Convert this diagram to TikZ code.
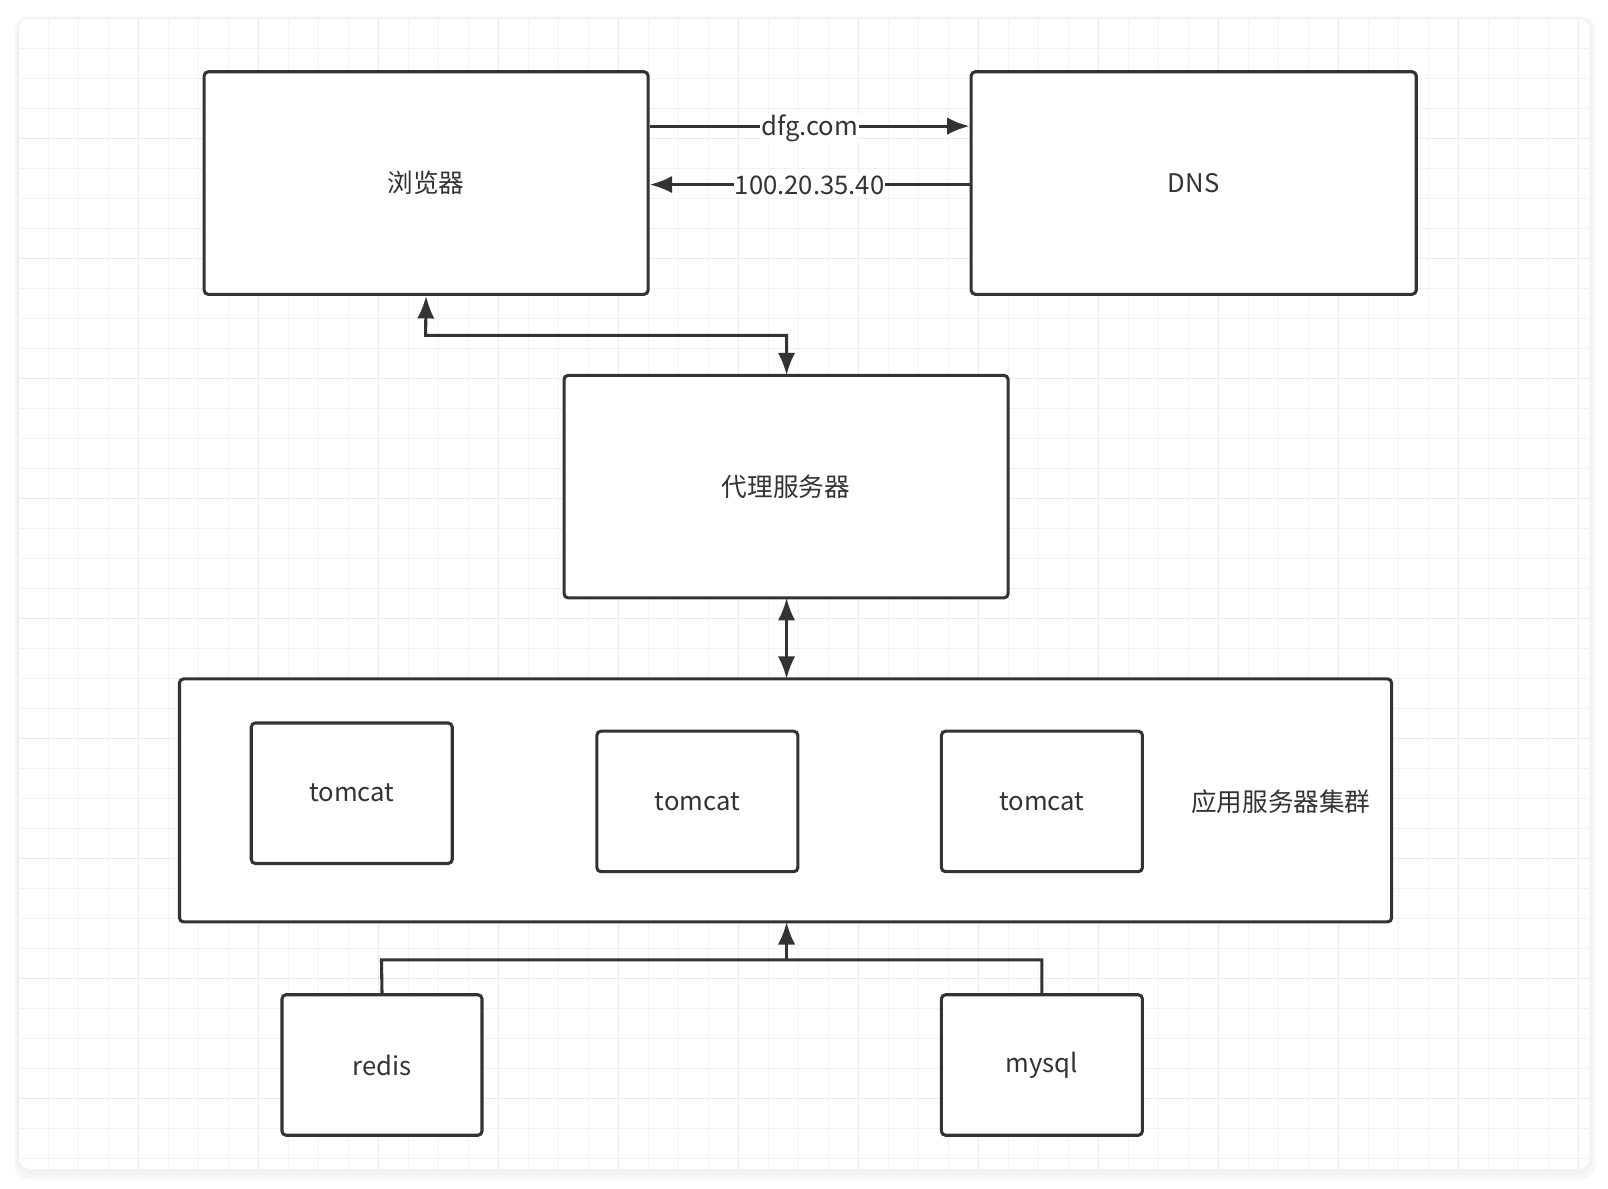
\documentclass[tikz,border=0pt]{standalone}
\usepackage{fontspec}
\setmainfont{Noto Sans CJK SC}
\usetikzlibrary{arrows.meta}
\definecolor{ln}{HTML}{333333}
\begin{document}
\begin{tikzpicture}[x=1pt,y=-1pt,
 box/.style={draw=ln,line width=3pt,rounded corners=4pt,fill=white},
 lbl/.style={font=\fontsize{25}{29}\selectfont,text=ln},
 con/.style={draw=ln,line width=3pt},
 tip/.style={-{Latex[length=22pt,width=17pt]}},
 tips/.style={{Latex[length=22pt,width=17pt]}-{Latex[length=22pt,width=17pt]}}]
\useasboundingbox (0,0) rectangle (1568,1159);
\fill[gray!6,rounded corners=14pt] (14,16) rectangle (1556,1150);
\fill[gray!10,rounded corners=13pt] (16,18) rectangle (1553,1145);
\fill[white,rounded corners=12pt] (18,18) rectangle (1550,1140);
\begin{scope}
\clip[rounded corners=12pt] (18,18) rectangle (1550,1140);
\foreach \i in {0,...,53} {\draw[gray!10,line width=1.2pt] (18+29.25*\i,18) -- (18+29.25*\i,1140);}
\foreach \i in {0,...,39} {\draw[gray!10,line width=1.2pt] (18,18+29.25*\i) -- (1550,18+29.25*\i);}
\foreach \i in {0,...,13} {\draw[gray!16,line width=1.5pt] (18+117*\i,18) -- (18+117*\i,1140);}
\foreach \i in {0,...,10} {\draw[gray!16,line width=1.5pt] (18,18+117*\i) -- (1550,18+117*\i);}
\end{scope}
\node[box,minimum width=433pt,minimum height=217pt] (br) at (415.5,178.5) {};
\node[lbl] at (br) {浏览器};
\node[box,minimum width=434pt,minimum height=217pt] (dns) at (1164,178.5) {};
\node[lbl] at (dns) {DNS};
\node[box,minimum width=433pt,minimum height=217pt] (px) at (766.5,474.5) {};
\node[lbl] at (px) {代理服务器};
\node[box,minimum width=1182pt,minimum height=237pt] (cl) at (766,780.5) {};
\node[lbl] at (1249,782) {应用服务器集群};
\node[box,minimum width=196pt,minimum height=137pt] (t1) at (343,773.5) {};
\node[lbl] at (t1) {tomcat};
\node[box,minimum width=196pt,minimum height=137pt] (t2) at (680,781.5) {};
\node[lbl] at (t2) {tomcat};
\node[box,minimum width=196pt,minimum height=137pt] (t3) at (1016,781.5) {};
\node[lbl] at (t3) {tomcat};
\node[box,minimum width=195pt,minimum height=137pt] (rd) at (372.5,1038.5) {};
\node[lbl] at (rd) {redis};
\node[box,minimum width=196pt,minimum height=137pt] (my) at (1016,1038.5) {};
\node[lbl] at (my) {mysql};
\coordinate (a1) at (br.east |- 0,123);
\coordinate (a2) at (dns.west |- 0,123);
\draw[con,tip] (a1) -- node[lbl,fill=white,inner sep=1pt,yshift=-2pt]{dfg.com} (a2);
\coordinate (b1) at (dns.west |- 0,180);
\coordinate (b2) at (br.east |- 0,180);
\draw[con,tip] (b1) -- node[lbl,fill=white,inner sep=1pt,yshift=-1pt]{100.20.35.40} (b2);
\draw[con,tips] (br.south) -- (415,327) -- (767,327) -- (767,366);
\draw[con,tips] (767,583) -- (767,662);
\draw[con] (rd.north) -- (372,936) -- (1016,936) -- (my.north);
\draw[con,tip] (767,936) -- (767,899);
\end{tikzpicture}
\end{document}
